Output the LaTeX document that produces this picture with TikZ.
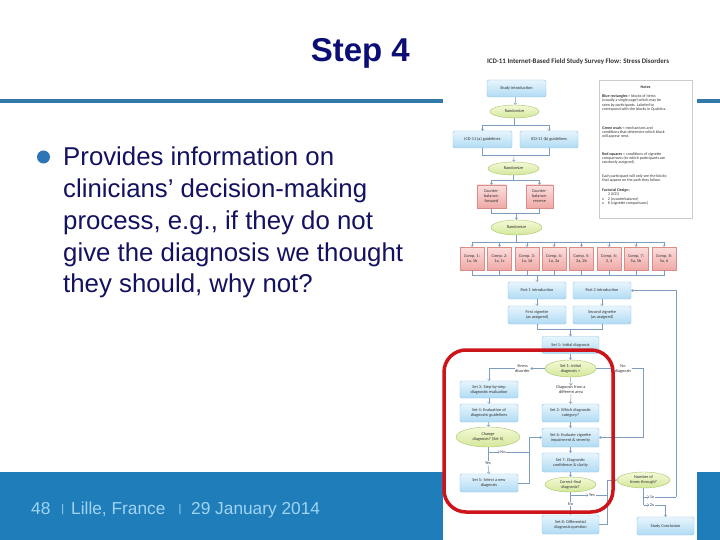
\documentclass[tikz,border=0pt]{standalone}
\usepackage{fontspec}
\setmainfont{Liberation Sans}
\newfontfamily\flowfont{Carlito}
\usetikzlibrary{shapes.geometric,arrows.meta}
\definecolor{titlecol}{RGB}{12,14,118}
\definecolor{bodycol}{RGB}{20,18,96}
\definecolor{bulletcol}{RGB}{46,117,182}
\definecolor{barcol}{RGB}{50,121,168}
\definecolor{footcol}{RGB}{31,125,185}
\definecolor{foottext}{RGB}{160,212,245}
\definecolor{bluetop}{RGB}{232,245,253}
\definecolor{bluebot}{RGB}{176,219,244}
\definecolor{bluebd}{RGB}{140,196,230}
\definecolor{greentop}{RGB}{244,249,216}
\definecolor{greenbot}{RGB}{212,232,154}
\definecolor{greenbd}{RGB}{169,196,106}
\definecolor{redtop}{RGB}{252,222,222}
\definecolor{redbot}{RGB}{239,169,166}
\definecolor{redbd}{RGB}{217,140,136}
\definecolor{flowline}{RGB}{124,156,192}
\definecolor{markred}{RGB}{204,20,26}
\begin{document}
\begin{tikzpicture}[x=1pt,y=-1pt,
  ftxt/.style={font=\flowfont\fontsize{4.3}{5}\selectfont, text=black!80, align=center, inner sep=0.3},
  bbox/.style={ftxt, draw=bluebd, line width=0.4, rounded corners=1.5, top color=bluetop, bottom color=bluebot},
  rbox/.style={ftxt, draw=redbd, line width=0.4, top color=redtop, bottom color=redbot, minimum width=24, minimum height=23},
  gell/.style={ftxt, ellipse, draw=greenbd, line width=0.4, top color=greentop, bottom color=greenbot},
  lbl/.style={ftxt, inner sep=0.5},
  flow/.style={draw=flowline, line width=0.5},
  arr/.style={flow, -{Straight Barb[length=1.6pt,width=3pt]}},
  ntxt/.style={font=\flowfont\fontsize{4}{4.35}\selectfont, text=black!80, align=left, anchor=north west, inner sep=0}
]
\useasboundingbox (0,0) rectangle (720,540);
\fill[white] (0,0) rectangle (720,540);
% slide frame
\fill[footcol] (0,472) rectangle (720,540);
\fill[barcol] (0,99) rectangle (720,103);
\node[anchor=base east, font=\bfseries\fontsize{33}{36}\selectfont, text=titlecol, inner sep=0] (title) at (410,61.7) {Step 4};
\node[circle, fill=bulletcol, minimum size=13, inner sep=0] (bul) at (43.5,157) {};
\node[anchor=north west, align=left, font=\fontsize{25.8}{31.75}\selectfont, text=bodycol, inner sep=0] (body) at (63,147)
  {Provides information on\\clinicians’ decision-making\\process, e.g., if they do not\\give the diagnosis we thought\\they should, why not?};
\node[anchor=base west, font=\fontsize{17.3}{20}\selectfont, text=foottext, inner sep=0] (f1) at (31,514) {48};
\node[anchor=base, font=\fontsize{11}{12}\selectfont, text=foottext, inner sep=0] (s1bar) at (62.7,512.5) {|};
\node[anchor=base west, font=\fontsize{17.3}{20}\selectfont, text=foottext, inner sep=0] (f2) at (71,514) {Lille, France};
\node[anchor=base, font=\fontsize{11}{12}\selectfont, text=foottext, inner sep=0] (s2bar) at (180,512.5) {|};
\node[anchor=base west, font=\fontsize{17.3}{20}\selectfont, text=foottext, inner sep=0] (f3) at (191,514) {29 January 2014};
% embedded flowchart picture
\fill[white] (443,45) rectangle (697,540);
\node[font=\flowfont\bfseries\fontsize{6.9}{7}\selectfont, text=black!80, inner sep=0] (ftitle) at (578,62) {ICD-11 Internet-Based Field Study Survey Flow: Stress Disorders};
% notes
\node[draw=black!20, line width=0.4, fill=white, minimum width=93, minimum height=138, anchor=north west, inner sep=0] (notes) at (599,80) {};
\node[font=\flowfont\bfseries\fontsize{4}{4.35}\selectfont, text=black!80, inner sep=0] (nh) at (645.5,87) {Notes};
\node[ntxt] (n1) at (602,94.5) {\textbf{Blue rectangles} = blocks of items\\(usually a single page) which may be\\seen by participants. Labeled to\\correspond with the blocks in Qualtrics.};
\node[ntxt] (n2) at (602,126) {\textbf{Green ovals} = mechanisms and\\conditions that determine which block\\will appear next.};
\node[ntxt] (n3) at (602,152) {\textbf{Red squares} = conditions of vignette\\comparisons (to which participants are\\randomly assigned).};
\node[ntxt] (n4) at (602,174.5) {Each participant will only see the blocks\\that appear on the path they follow.};
\node[ntxt] (n5) at (602,188.5) {\textbf{Factorial Design:}\\\hspace*{6pt}2 (ICD)\\x\hspace*{4pt}2 (counterbalance)\\x\hspace*{4pt}8 (vignette comparisons)};
% top part
\node[bbox, minimum width=59, minimum height=17] (intro) at (516.5,88.5) {Study introduction};
\node[gell, minimum width=49, minimum height=13] (rand1) at (514.5,111.5) {Randomize};
\node[bbox, minimum width=59, minimum height=17] (ga) at (482.5,139.5) {ICD-11 (a) guidelines};
\node[bbox, minimum width=58, minimum height=17] (gb) at (549,139.5) {ICD-11 (b) guidelines};
\node[gell, minimum width=51, minimum height=13] (rand2) at (513.5,168.5) {Randomize};
\node[rbox, minimum width=29] (cf) at (491.5,196.5) {Counter-\\balance:\\forward};
\node[rbox, minimum width=27] (cr) at (539.5,196.5) {Counter-\\balance:\\reverse};
\node[gell, minimum width=51, minimum height=15] (rand3) at (516.5,227.5) {Randomize};
\node[rbox] (c1) at (472,258.5) {Comp. 1:\\1a, 1b};
\node[rbox] (c2) at (499.5,258.5) {Comp. 2:\\1a, 1c};
\node[rbox] (c3) at (527,258.5) {Comp. 3:\\1a, 1d};
\node[rbox] (c4) at (554,258.5) {Comp. 4:\\1a, 2a};
\node[rbox] (c5) at (581.5,258.5) {Comp. 5:\\2a, 2b};
\node[rbox] (c6) at (609,258.5) {Comp. 6:\\3, 4};
\node[rbox] (c7) at (636,258.5) {Comp. 7:\\5a, 5b};
\node[rbox] (c8) at (664,258.5) {Comp. 8:\\5a, 6};
\node[bbox, minimum width=58, minimum height=17] (p1) at (537,290.5) {Part 1 introduction};
\node[bbox, minimum width=58, minimum height=17] (p2) at (602,290.5) {Part 2 introduction};
\node[bbox, minimum width=58, minimum height=18] (v1) at (537,315) {First vignette\\(as assigned)};
\node[bbox, minimum width=58, minimum height=18] (v2) at (602,315) {Second vignette\\(as assigned)};
\node[bbox, minimum width=57, minimum height=17] (s1) at (570.5,345) {Set 1: Initial diagnosis};
% lower part
\node[gell, minimum width=51, minimum height=17] (e1) at (570.5,368.5) {Set 1: Initial\\diagnosis =};
\node[lbl] (stress) at (522.5,368.5) {Stress\\disorder};
\node[lbl] (nodiag) at (623,368.5) {No\\diagnosis};
\node[lbl] (diffarea) at (571,390) {Diagnosis from a\\different area};
\node[bbox, minimum width=58, minimum height=17] (s3) at (489,389.5) {Set 3: Step-by-step\\diagnostic evaluation};
\node[bbox, minimum width=58, minimum height=18] (s4) at (489,413) {Set 4: Evaluation of\\diagnostic guidelines};
\node[gell, minimum width=64, minimum height=20] (e5) at (488,437) {Change\\diagnosis? (Set 5)};
\node[lbl] (notext) at (503,452) {No};
\node[lbl] (yestext) at (488,463) {Yes};
\node[bbox, minimum width=58, minimum height=18] (s5) at (489,483) {Set 5: Select a new\\diagnosis};
\node[bbox, minimum width=57, minimum height=18] (s2) at (570.5,413) {Set 2: Which diagnostic\\category?};
\node[bbox, minimum width=57, minimum height=19] (s6) at (570.5,437.5) {Set 6: Evaluate vignette\\impairment \& severity};
\node[bbox, minimum width=57, minimum height=19] (s7) at (570.5,462.5) {Set 7: Diagnostic\\confidence \& clarity};
\node[gell, minimum width=51, minimum height=15] (e2) at (570.5,484.5) {Correct final\\diagnosis?};
\node[lbl] (yes2) at (592,495) {Yes};
\node[lbl] (no2) at (570.5,504) {No};
\node[bbox, minimum width=57, minimum height=19] (s8) at (570.5,524.5) {Set 8: Differential\\diagnosis question};
\node[gell, minimum width=53, minimum height=16] (e3) at (643.5,480) {Number of\\times through?};
\node[lbl] (x1) at (652,497) {1x};
\node[lbl] (x2) at (652,505) {2x};
\node[bbox, minimum width=57, minimum height=18] (conc) at (665.5,526) {Study Conclusion};
% connectors top
\coordinate (j1) at (514.5,125);
\coordinate (j2) at (514,155);
\coordinate (j3) at (513.5,180);
\coordinate (j4) at (516.5,213);
\coordinate (j5) at (516.5,242);
\coordinate (j6) at (537,275);
\coordinate (j7) at (570.5,329);
\draw[arr] (intro) -- (rand1);
\draw[flow] (rand1) -- (j1);
\draw[arr] (j1) -| (ga.north);
\draw[arr] (j1) -| (gb.north);
\draw[flow] (ga.south) |- (j2);
\draw[flow] (gb.south) |- (j2);
\draw[arr] (j2) -- (rand2);
\draw[flow] (rand2) -- (j3);
\draw[arr] (j3) -| (cf.north);
\draw[arr] (j3) -| (cr.north);
\draw[flow] (cf.south) |- (j4);
\draw[flow] (cr.south) |- (j4);
\draw[arr] (j4) -- (rand3);
\draw[flow] (rand3) -- (j5);
\foreach \c in {c1,c2,c3,c4,c5,c6,c7,c8}{
  \draw[arr] (j5) -| (\c.north);
  \draw[flow] (\c.south) |- (j6);
}
\draw[arr] (j6) -- (p1);
\draw[arr] (p1) -- (v1);
\draw[arr] (p2) -- (v2);
\draw[flow] (v1.south) |- (j7);
\draw[flow] (v2.south) |- (j7);
\draw[arr] (j7) -- (s1);
% connectors lower
\draw[arr] (s1) -- (e1);
\draw[arr] (e1.west) -- (stress.east);
\draw[arr] (stress.west) -| (s3.north);
\draw[arr] (e1.east) -- (nodiag.west);
\coordinate (k2) at (643,437.5);
\draw[flow] (nodiag.east) -| (k2);
\draw[arr] (k2) -- (s6.east);
\draw[arr] (e1.south) -- (diffarea.north);
\draw[arr] (diffarea.south) -- (s2.north);
\draw[arr] (s2) -- (s6);
\draw[arr] (s6) -- (s7);
\draw[arr] (s7) -- (e2);
\draw[arr] (s3) -- (s4);
\draw[arr] (s4) -- (e5);
\coordinate (k3) at (488,452);
\coordinate (k4) at (529,452);
\draw[flow] (e5.south) -- (k3);
\draw[arr] (k3) -- (notext.west);
\draw[flow] (notext.east) -- (k4);
\draw[arr] (k4) |- (s6.west);
\draw[flow] (k3) -- (yestext.north);
\draw[arr] (yestext.south) -- (s5.north);
\draw[flow] (s5.east) -| (k4);
\coordinate (k5) at (570.5,495);
\coordinate (k6) at (607,495);
\coordinate (k7) at (607,480);
\draw[flow] (e2.south) -- (k5);
\draw[arr] (k5) -- (yes2.west);
\draw[flow] (yes2.east) -- (k6);
\draw[flow] (k5) -- (no2.north);
\draw[arr] (no2.south) -- (s8.north);
\draw[flow] (s8.east) -| (k7);
\draw[arr] (k7) -- (e3.west);
\coordinate (k8) at (643.5,497);
\coordinate (k9) at (643.5,505);
\coordinate (k10) at (676,497);
\coordinate (k11) at (665.5,505);
\draw[flow] (e3.south) -- (k9);
\draw[arr] (k8) -- (x1.west);
\draw[flow] (x1.east) -- (k10);
\draw[arr] (k10) |- (p2.east);
\draw[arr] (k9) -- (x2.west);
\draw[flow] (x2.east) -- (k11);
\draw[arr] (k11) -- (conc.north);
% red highlight
\node[draw=markred, line width=3.5, rounded corners=22, minimum width=169, minimum height=162, inner sep=0] (hl) at (528.5,431) {};
\end{tikzpicture}
\end{document}
